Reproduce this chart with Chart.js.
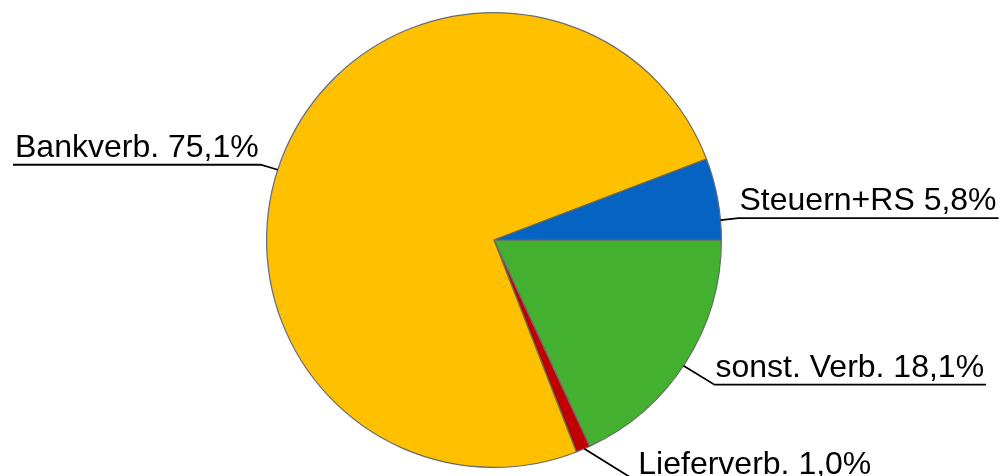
<!DOCTYPE html>
<html>
<head>
<meta charset="utf-8">
<script src="https://cdn.jsdelivr.net/npm/chart.js@4.4.0/dist/chart.umd.min.js"></script>
<style>
html,body{margin:0;padding:0;background:#fff;}
#wrap{width:1000px;height:476px;position:relative;}
</style>
</head>
<body>
<div id="wrap"><canvas id="c" width="1000" height="476"></canvas></div>
<script>
const categories = ["sonst. Verb.", "Lieferverb.", "Bankverb.", "Steuern+RS"];
const values = [18.1, 1.0, 75.1, 5.8];
const colors = ["#43B02F", "#C00000", "#FFC000", "#0563C1"];

// label placement: fraction along slice for anchor, offset from anchor to underline start, side
const labelLayout = [
  {frac: 0.515, dx: 31,  dy: 19, side: "right"},
  {frac: 0.4,   dx: 53,  dy: 33, side: "right"},
  {frac: 0.478, dx: -17, dy: -5, side: "left"},
  {frac: 0.76,  dx: 18,  dy: -2, side: "right"}
];

function fmt(v){ return v.toFixed(1).replace('.', ',') + '%'; }

const labelPlugin = {
  id: 'leaderLabels',
  afterDatasetsDraw(chart){
    const ctx = chart.ctx;
    const meta = chart.getDatasetMeta(0);
    ctx.save();
    ctx.font = '32px "Liberation Sans", Arial, sans-serif';
    ctx.fillStyle = '#000';
    ctx.strokeStyle = '#000';
    ctx.lineWidth = 1.8;
    ctx.textBaseline = 'alphabetic';
    meta.data.forEach((arc, i) => {
      const p = arc.getProps(['x','y','startAngle','endAngle','outerRadius'], true);
      const L = labelLayout[i];
      const a = p.startAngle + (p.endAngle - p.startAngle) * L.frac;
      const ax = p.x + Math.cos(a) * p.outerRadius;
      const ay = p.y + Math.sin(a) * p.outerRadius;
      const nx = ax + L.dx, ny = ay + L.dy;
      const text = categories[i] + ' ' + fmt(values[i]);
      const w = ctx.measureText(text).width;
      let farX, textX;
      if (L.side === 'left') {
        ctx.textAlign = 'right';
        textX = nx - 2;
        farX = nx - w - 4;
      } else {
        ctx.textAlign = 'left';
        textX = nx + 1;
        farX = nx + w + 3;
      }
      ctx.beginPath();
      ctx.moveTo(ax, ay);
      ctx.lineTo(nx, ny);
      ctx.lineTo(farX, ny);
      ctx.stroke();
      ctx.fillText(text, textX, ny - 8);
    });
    ctx.restore();
  }
};

new Chart(document.getElementById('c'), {
  type: 'pie',
  data: {
    labels: categories,
    datasets: [{
      data: values,
      backgroundColor: colors,
      borderColor: '#6a6a6a',
      borderWidth: 1.2
    }]
  },
  options: {
    responsive: false,
    animation: false,
    rotation: 90,
    layout: {padding: {left: 266, right: 278, top: 12, bottom: 8}},
    plugins: {legend: {display: false}, tooltip: {enabled: false}}
  },
  plugins: [labelPlugin]
});
</script>
</body>
</html>
